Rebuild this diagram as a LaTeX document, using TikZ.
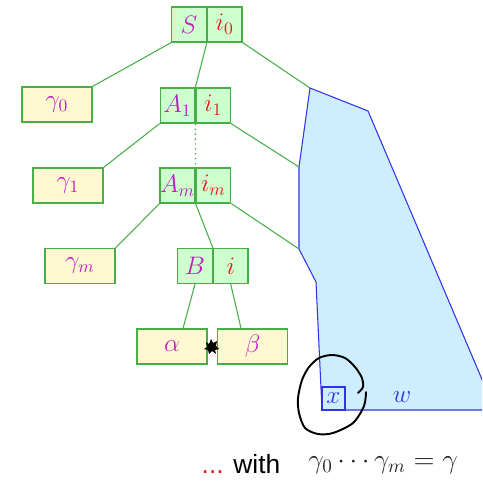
\documentclass[tikz,border=0pt]{standalone}
\usepackage{fontspec}
\newfontfamily\arialfont{Liberation Sans}
\usetikzlibrary{positioning}
\definecolor{symmag}{RGB}{190,30,190}
\definecolor{idxred}{RGB}{235,25,25}
\definecolor{boxgreen}{RGB}{70,175,70}
\definecolor{boxfill}{RGB}{206,255,206}
\definecolor{leaffill}{RGB}{255,248,210}
\definecolor{polyblue}{RGB}{50,50,230}
\definecolor{polyfill}{RGB}{206,238,255}
\tikzset{
  half/.style={draw=boxgreen, line width=0.7pt, fill=boxfill, minimum width=0.69cm, minimum height=0.7cm, inner sep=0pt},
  leaf/.style={draw=boxgreen, line width=0.7pt, fill=leaffill, text=symmag, minimum width=1.4cm, minimum height=0.7cm, inner sep=0pt},
  edge/.style={boxgreen, line width=0.6pt},
}
\begin{document}
\begin{tikzpicture}[x=0.02cm, y=-0.02cm, font=\Large]
    \useasboundingbox (0,0) rectangle (482,482);
    % 文の領域
    \coordinate (p1) at (310,88);
    \coordinate (p2) at (299,167);
    \coordinate (p3) at (299,249);
    \begin{scope}
      \clip (0,0) rectangle (482,482);
      \filldraw[fill=polyfill, draw=polyblue, line width=0.6pt]
        (p1) -- (368,111) -- (495,410) -- (322,410) -- (316,282) -- (p3) -- (p2) -- cycle;
    \end{scope}
    \node[draw=polyblue, fill=polyfill, line width=0.6pt, minimum size=0.46cm, inner sep=0pt, text=polyblue] (x) at (333.5,398.5) {$x$};
    \node[text=polyblue] (w) at (402,397) {$w$};
    % 木
    \node[half, text=symmag] (S) at (189,24.5) {$S$};
    \node[half, text=idxred, right=0pt of S] (i0) {$i_0$};
    \node[half, text=symmag] (A1) at (177.5,105.5) {$A_1$};
    \node[half, text=idxred, right=0pt of A1] (i1) {$i_1$};
    \node[half, text=symmag] (Am) at (177.5,185.5) {$A_m$};
    \node[half, text=idxred, right=0pt of Am] (im) {$i_m$};
    \node[half, text=symmag] (B) at (195,266) {$B$};
    \node[half, text=idxred, right=0pt of B] (i) {$i$};
    \node[leaf] (g0) at (57,104.5) {$\gamma_0$};
    \node[leaf] (g1) at (68,185.5) {$\gamma_1$};
    \node[leaf] (gm) at (80,266) {$\gamma_m$};
    \node[leaf] (alpha) at (172,346.5) {$\alpha$};
    \node[leaf] (beta) at (252.5,346.5) {$\beta$};
    \draw[edge] (S.south west) -- (g0.north east);
    \draw[edge] (S.south east) -- (A1.north east);
    \draw[edge] (i0.south east) -- (p1);
    \draw[edge] (A1.south west) -- (g1.north east);
    \draw[edge, line width=0.8pt, dotted] (A1.south east) -- (Am.north east);
    \draw[edge] (i1.south east) -- (p2);
    \draw[edge] (Am.south west) -- (gm.north east);
    \draw[edge] (Am.south east) -- (B.north east);
    \draw[edge] (im.south east) -- (p3);
    \draw[edge] (B.south) -- ([xshift=0.22cm]alpha.north);
    \draw[edge] (i.south) -- ([xshift=-0.23cm]beta.north);
    % 手書きの印
    \fill[black] (206,342) -- (209,344) -- (211,339) -- (213,343) -- (217,341) -- (216,346) -- (219,349)
      -- (215,350) -- (216,354) -- (212,351) -- (209,354) -- (208,350) -- (204,349) -- (207,347) -- cycle;
    \draw[line width=1.1pt, line cap=round] plot[smooth] coordinates {(366,392) (364,406) (353,423) (333,433) (318,434) (305,428) (299,413) (298,398) (302,380) (309,367) (319,358) (332,355) (345,358) (355,367) (362,378) (363,387) (358,393)};
    % 下の文
    \node[font=\arialfont\fontsize{15}{18}\selectfont] (with) at (241,464) {\textcolor{idxred}{...} with};
    \node[text=black!85] (gam) at (383,465) {\scalebox{1.09}{$\gamma_0\cdots\gamma_m=\gamma$}};
  \end{tikzpicture}
\end{document}
